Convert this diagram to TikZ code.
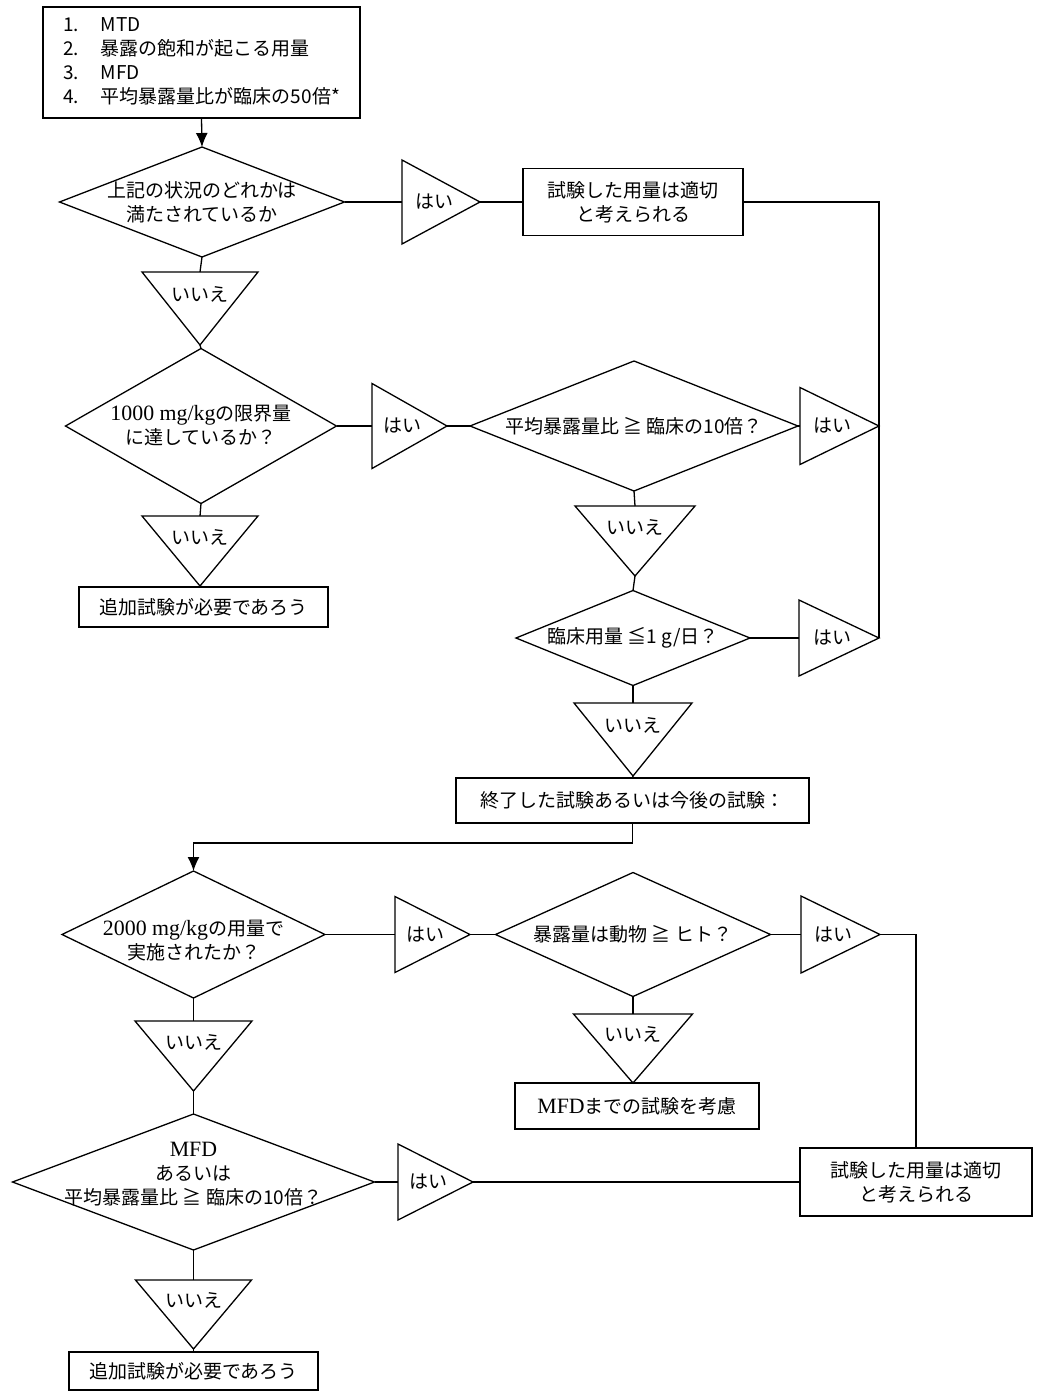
\documentclass[tikz,border=0pt]{standalone}
\usepackage{fontspec}
\setmainfont{Noto Sans CJK JP}
\newfontfamily\latinfont[Scale=1.15]{Liberation Serif}
\usetikzlibrary{shapes.geometric,arrows.meta}

\tikzset{
  box/.style={draw, rectangle, inner sep=0pt, outer sep=0pt, align=center},
  decision/.style={draw, diamond, inner sep=0pt, outer sep=0pt},
  yes/.style={rectangle, inner sep=0pt, outer sep=0pt, label={[xshift=-7pt]center:はい}},
  no/.style={rectangle, inner sep=0pt, outer sep=0pt, label={[yshift=14pt]center:いいえ}},
  flow/.style={-{Latex[length=14pt,width=12pt]}},
}

\begin{document}
\begin{tikzpicture}[x=1pt, y=-1pt, line width=1.3pt,
    every node/.style={font=\fontsize{19}{24}\selectfont}]
  \useasboundingbox (0,0) rectangle (1037,1392);

  % first part
  \node[box, minimum width=317pt, minimum height=111pt] (cond) at (201.5,62.5)
    {\begin{tabular}{@{}l@{\hspace{22pt}}l@{}}
      1. & MTD\\
      2. & 暴露の飽和が起こる用量\\
      3. & MFD\\
      4. & 平均暴露量比が臨床の50倍*
    \end{tabular}};

  \node[decision, minimum width=285pt, minimum height=110pt,
    label={[align=center]center:{上記の状況のどれかは\\満たされているか}}] (anymet) at (202,202) {};
  \node[yes, minimum width=78pt, minimum height=84pt] (yesA) at (441,202) {};
  \node[box, minimum width=220pt, minimum height=67pt] (okA) at (633,202) {試験した用量は適切\\と考えられる};
  \node[no, minimum width=116pt, minimum height=73pt] (noA) at (200,308.5) {};

  \node[decision, minimum width=271pt, minimum height=155pt,
    label={[align=center]center:{{\latinfont 1000 mg/kg}の限界量\\に達しているか？}}] (limit) at (201,426) {};
  \node[yes, minimum width=75pt, minimum height=85pt] (yesB) at (409.5,426) {};
  \node[decision, minimum width=328pt, minimum height=130pt,
    label={center:平均暴露量比 ≧ 臨床の10倍？}] (ratio) at (634,426) {};
  \node[yes, minimum width=79pt, minimum height=77pt] (yesC) at (839.5,426) {};
  \node[no, minimum width=116pt, minimum height=70pt] (noB) at (200,551) {};
  \node[box, minimum width=249pt, minimum height=40pt] (moreA) at (203.5,607) {追加試験が必要であろう};
  \node[no, minimum width=120pt, minimum height=70pt] (noC) at (635,541) {};

  \node[decision, minimum width=234pt, minimum height=95pt,
    label={center:臨床用量 ≦1 g/日？}] (clin) at (633,638) {};
  \node[yes, minimum width=80pt, minimum height=76pt] (yesD) at (839,638) {};
  \node[no, minimum width=118pt, minimum height=73pt] (noD) at (633,739.5) {};
  \node[box, minimum width=353pt, minimum height=45pt] (studies) at (632.5,800.5) {終了した試験あるいは今後の試験：};

  % second part
  \coordinate (turn) at (193.5,843);
  \node[decision, minimum width=263pt, minimum height=127pt,
    label={[align=center, yshift=-6pt]center:{{\latinfont 2000 mg/kg}の用量で\\実施されたか？}}] (dose) at (193.5,934.5) {};
  \node[yes, minimum width=75pt, minimum height=76pt] (yesE) at (432.5,934.5) {};
  \node[decision, minimum width=275pt, minimum height=124pt,
    label={center:暴露量は動物 ≧ ヒト？}] (expo) at (633,934.5) {};
  \node[yes, minimum width=79pt, minimum height=77pt] (yesF) at (840.5,934.5) {};
  \node[no, minimum width=119pt, minimum height=69pt] (noE) at (633,1048.5) {};
  \node[box, minimum width=244pt, minimum height=46pt] (mfdtest) at (637,1106) {{\latinfont MFD}までの試験を考慮};
  \node[no, minimum width=117pt, minimum height=70pt] (noF) at (193.5,1056) {};

  \node[decision, minimum width=362pt, minimum height=136pt,
    label={[align=center, yshift=8pt]center:{{\latinfont MFD}\\あるいは\\平均暴露量比 ≧ 臨床の10倍？}}] (mfdq) at (193.5,1182) {};
  \node[yes, minimum width=75pt, minimum height=76pt] (yesG) at (435.5,1182) {};
  \node[box, minimum width=232pt, minimum height=68pt] (okB) at (916,1182) {試験した用量は適切\\と考えられる};
  \node[no, minimum width=116pt, minimum height=69pt] (noG) at (193.5,1314.5) {};
  \node[box, minimum width=249pt, minimum height=38pt] (moreB) at (193.5,1371) {追加試験が必要であろう};

  % triangles
  \foreach \t in {yesA,yesB,yesC,yesD,yesE,yesF,yesG}
    \draw (\t.north west) -- (\t.east) -- (\t.south west) -- cycle;
  \foreach \t in {noA,noB,noC,noD,noE,noF,noG}
    \draw (\t.north west) -- (\t.north east) -- (\t.south) -- cycle;

  % connectors
  \draw[flow] (cond.south) -- (anymet.north);
  \draw (anymet.east) -- (yesA.west);
  \draw (yesA.east) -- (okA.west);
  \draw (okA.east) -| (yesD.east);
  \draw (anymet.south) -- (noA.north);
  \draw (noA.south) -- (limit.north);
  \draw (limit.east) -- (yesB.west);
  \draw (yesB.east) -- (ratio.west);
  \draw (ratio.east) -- (yesC.west);
  \draw (limit.south) -- (noB.north);
  \draw (noB.south) -- (moreA.north);
  \draw (ratio.south) -- (noC.north);
  \draw (noC.south) -- (clin.north);
  \draw (clin.east) -- (yesD.west);
  \draw (clin.south) -- (noD.north);
  \draw (noD.south) -- (studies.north);
  \draw[flow] (studies.south) |- (turn) -- (dose.north);
  \draw (dose.east) -- (yesE.west);
  \draw (yesE.east) -- (expo.west);
  \draw (expo.east) -- (yesF.west);
  \draw (yesF.east) -| (okB.north);
  \draw (expo.south) -- (noE.north);
  \draw (noE.south) -- (mfdtest.north);
  \draw (dose.south) -- (noF.north);
  \draw (noF.south) -- (mfdq.north);
  \draw (mfdq.east) -- (yesG.west);
  \draw (yesG.east) -- (okB.west);
  \draw (mfdq.south) -- (noG.north);
  \draw (noG.south) -- (moreB.north);
\end{tikzpicture}
\end{document}
